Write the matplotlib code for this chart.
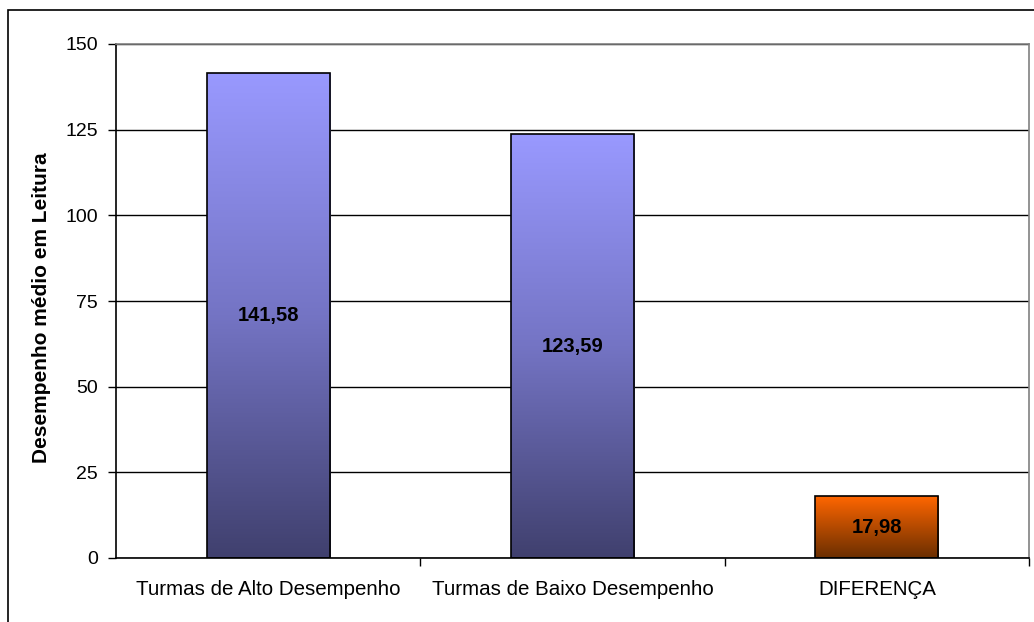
import numpy as np
import matplotlib.pyplot as plt
from matplotlib.colors import LinearSegmentedColormap
from matplotlib.patches import Rectangle

plt.rcParams['font.family'] = ['Liberation Sans', 'DejaVu Sans']

# Dados
categorias = ['Turmas de Alto Desempenho', 'Turmas de Baixo Desempenho', 'DIFERENÇA']
valores = [141.58, 123.59, 17.98]
rotulos = ['141,58', '123,59', '17,98']
yticks = [0, 25, 50, 75, 100, 125, 150]

# Gradientes (de baixo para cima)
grad_roxo = LinearSegmentedColormap.from_list('roxo', ['#40406e', '#7474c4', '#9999ff'])
grad_laranja = LinearSegmentedColormap.from_list('laranja', ['#6a2e00', '#ff6600'])
gradientes = [grad_roxo, grad_roxo, grad_laranja]

fig = plt.figure(figsize=(10.34, 6.22), dpi=100)
ax = fig.add_axes([116 / 1034, 1 - 558 / 622, 913 / 1034, 514 / 622])

# Moldura externa do gráfico
fig.patches.append(Rectangle((8 / 1034, -0.1), 1.2, 1 - 10 / 622 + 0.1,
                             transform=fig.transFigure, fill=False,
                             edgecolor='black', linewidth=1.2))

x = np.arange(len(categorias))
largura = 0.405
barras = ax.bar(x, valores, width=largura, color='none', edgecolor='black',
                linewidth=1.2, zorder=3)

for barra, cmap, val, txt in zip(barras, gradientes, valores, rotulos):
    x0 = barra.get_x()
    grad = np.linspace(1, 0, 256).reshape(-1, 1)
    img = ax.imshow(grad, cmap=cmap, aspect='auto', zorder=2,
                    extent=(x0, x0 + barra.get_width(), 0, val),
                    interpolation='bicubic')
    img.set_clip_path(barra)
    ax.text(barra.get_x() + barra.get_width() / 2, val / 2, txt,
            ha='center', va='center', fontsize=14.5, fontweight='bold', zorder=4)

ax.set_xlim(-0.5, len(categorias) - 0.5)
ax.set_ylim(0, 150)

ax.set_yticks(yticks)
ax.tick_params(axis='y', labelsize=14, length=6, width=1, direction='out', pad=7)
ax.yaxis.grid(True, color='black', linewidth=1)
ax.set_axisbelow(True)

ax.set_xticks(x)
ax.set_xticklabels(categorias, fontsize=14.8)
ax.tick_params(axis='x', length=0, pad=16)
# marcas entre categorias
ax.set_xticks(np.arange(len(categorias)) + 0.5, minor=True)
ax.tick_params(axis='x', which='minor', length=6, width=1, direction='out')

ax.spines['left'].set_color('black')
ax.spines['bottom'].set_color('black')
ax.spines['top'].set_color('#808080')
ax.spines['right'].set_color('#808080')
for s in ax.spines.values():
    s.set_linewidth(1.2)

fig.text(42 / 1034, 1 - 308 / 622, 'Desempenho médio em Leitura', rotation=90,
         ha='center', va='center', fontsize=15, fontweight='bold')

fig.savefig('out.png', dpi=100)
